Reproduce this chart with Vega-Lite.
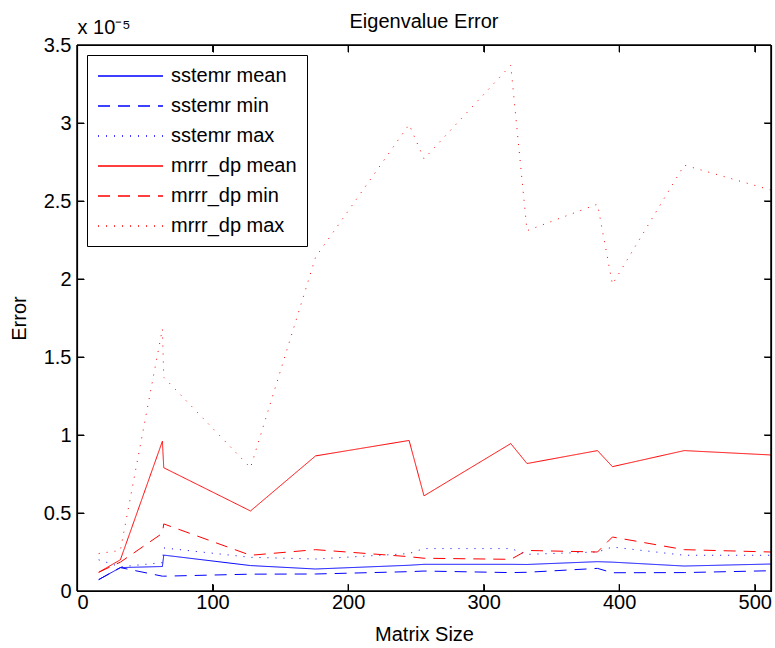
{
  "$schema": "https://vega.github.io/schema/vega-lite/v6.json",
  "autosize": {"type": "none"},
  "padding": {"left": 77, "top": 45, "right": 4, "bottom": 57},
  "width": 694,
  "height": 546,
  "background": "white",
  "title": {"text": "Eigenvalue Error", "font": "Liberation Sans", "fontSize": 20, "fontWeight": "normal", "color": "black", "anchor": "middle", "baseline": "alphabetic", "offset": -30},
  "config": {
    "view": {"stroke": "black", "strokeWidth": 1},
    "axis": {"grid": false, "domain": true, "ticks": true, "domainColor": "black", "tickColor": "black", "labelColor": "black", "titleColor": "black", "labelFont": "Liberation Sans", "titleFont": "Liberation Sans", "labelFontSize": 20, "titleFontSize": 20, "titleFontWeight": "normal", "tickSize": -7, "domainWidth": 1.2, "tickWidth": 1},
    "legend": {"labelFont": "Liberation Sans", "labelFontSize": 20, "labelColor": "black", "strokeColor": "black", "fillColor": "white", "padding": 10, "rowPadding": 9, "offset": 10, "orient": "top-left", "symbolType": "M-1,0H5.5", "symbolSize": 400, "symbolStrokeWidth": 1.5, "labelOffset": 52, "cornerRadius": 0}
  },
  "datasets": {
    "xt": [{"n": 100}, {"n": 200}, {"n": 300}, {"n": 400}, {"n": 500}],
    "yt": [{"error": 0.5}, {"error": 1}, {"error": 1.5}, {"error": 2}, {"error": 2.5}, {"error": 3}]
  },
  "data": {"values": [
      {"n": 16, "series": "sstemr mean", "error": 0.073}, {"n": 32, "series": "sstemr mean", "error": 0.15}, {"n": 63, "series": "sstemr mean", "error": 0.157}, {"n": 64, "series": "sstemr mean", "error": 0.23}, {"n": 128, "series": "sstemr mean", "error": 0.163}, {"n": 176, "series": "sstemr mean", "error": 0.141}, {"n": 245, "series": "sstemr mean", "error": 0.165}, {"n": 256, "series": "sstemr mean", "error": 0.171}, {"n": 320, "series": "sstemr mean", "error": 0.171}, {"n": 332, "series": "sstemr mean", "error": 0.17}, {"n": 384, "series": "sstemr mean", "error": 0.188}, {"n": 395, "series": "sstemr mean", "error": 0.185}, {"n": 448, "series": "sstemr mean", "error": 0.16}, {"n": 512, "series": "sstemr mean", "error": 0.173},
      {"n": 16, "series": "sstemr min", "error": 0.073}, {"n": 32, "series": "sstemr min", "error": 0.15}, {"n": 63, "series": "sstemr min", "error": 0.095}, {"n": 64, "series": "sstemr min", "error": 0.095}, {"n": 128, "series": "sstemr min", "error": 0.108}, {"n": 176, "series": "sstemr min", "error": 0.109}, {"n": 245, "series": "sstemr min", "error": 0.124}, {"n": 256, "series": "sstemr min", "error": 0.128}, {"n": 320, "series": "sstemr min", "error": 0.118}, {"n": 332, "series": "sstemr min", "error": 0.12}, {"n": 384, "series": "sstemr min", "error": 0.145}, {"n": 395, "series": "sstemr min", "error": 0.117}, {"n": 448, "series": "sstemr min", "error": 0.118}, {"n": 512, "series": "sstemr min", "error": 0.13},
      {"n": 16, "series": "sstemr max", "error": 0.2}, {"n": 32, "series": "sstemr max", "error": 0.155}, {"n": 63, "series": "sstemr max", "error": 0.182}, {"n": 64, "series": "sstemr max", "error": 0.276}, {"n": 128, "series": "sstemr max", "error": 0.216}, {"n": 176, "series": "sstemr max", "error": 0.205}, {"n": 245, "series": "sstemr max", "error": 0.24}, {"n": 256, "series": "sstemr max", "error": 0.272}, {"n": 320, "series": "sstemr max", "error": 0.272}, {"n": 332, "series": "sstemr max", "error": 0.235}, {"n": 384, "series": "sstemr max", "error": 0.25}, {"n": 395, "series": "sstemr max", "error": 0.282}, {"n": 448, "series": "sstemr max", "error": 0.229}, {"n": 512, "series": "sstemr max", "error": 0.229},
      {"n": 16, "series": "mrrr_dp mean", "error": 0.12}, {"n": 32, "series": "mrrr_dp mean", "error": 0.2}, {"n": 63, "series": "mrrr_dp mean", "error": 0.96}, {"n": 64, "series": "mrrr_dp mean", "error": 0.79}, {"n": 128, "series": "mrrr_dp mean", "error": 0.513}, {"n": 176, "series": "mrrr_dp mean", "error": 0.866}, {"n": 245, "series": "mrrr_dp mean", "error": 0.965}, {"n": 256, "series": "mrrr_dp mean", "error": 0.61}, {"n": 320, "series": "mrrr_dp mean", "error": 0.945}, {"n": 332, "series": "mrrr_dp mean", "error": 0.817}, {"n": 384, "series": "mrrr_dp mean", "error": 0.9}, {"n": 395, "series": "mrrr_dp mean", "error": 0.797}, {"n": 448, "series": "mrrr_dp mean", "error": 0.9}, {"n": 512, "series": "mrrr_dp mean", "error": 0.872},
      {"n": 16, "series": "mrrr_dp min", "error": 0.12}, {"n": 32, "series": "mrrr_dp min", "error": 0.185}, {"n": 63, "series": "mrrr_dp min", "error": 0.37}, {"n": 64, "series": "mrrr_dp min", "error": 0.43}, {"n": 128, "series": "mrrr_dp min", "error": 0.229}, {"n": 176, "series": "mrrr_dp min", "error": 0.265}, {"n": 245, "series": "mrrr_dp min", "error": 0.22}, {"n": 256, "series": "mrrr_dp min", "error": 0.21}, {"n": 320, "series": "mrrr_dp min", "error": 0.203}, {"n": 332, "series": "mrrr_dp min", "error": 0.26}, {"n": 384, "series": "mrrr_dp min", "error": 0.25}, {"n": 395, "series": "mrrr_dp min", "error": 0.346}, {"n": 448, "series": "mrrr_dp min", "error": 0.265}, {"n": 512, "series": "mrrr_dp min", "error": 0.25},
      {"n": 16, "series": "mrrr_dp max", "error": 0.24}, {"n": 32, "series": "mrrr_dp max", "error": 0.26}, {"n": 63, "series": "mrrr_dp max", "error": 1.68}, {"n": 64, "series": "mrrr_dp max", "error": 1.37}, {"n": 128, "series": "mrrr_dp max", "error": 0.79}, {"n": 176, "series": "mrrr_dp max", "error": 2.14}, {"n": 245, "series": "mrrr_dp max", "error": 2.99}, {"n": 256, "series": "mrrr_dp max", "error": 2.77}, {"n": 320, "series": "mrrr_dp max", "error": 3.37}, {"n": 332, "series": "mrrr_dp max", "error": 2.31}, {"n": 384, "series": "mrrr_dp max", "error": 2.48}, {"n": 395, "series": "mrrr_dp max", "error": 1.966}, {"n": 448, "series": "mrrr_dp max", "error": 2.73}, {"n": 512, "series": "mrrr_dp max", "error": 2.57}
  ]},
  "layer": [
    {
      "mark": {"type": "line", "strokeWidth": 1},
      "encoding": {
        "x": {"field": "n", "type": "quantitative", "scale": {"domain": [0, 512], "nice": false, "zero": false}, "axis": {"orient": "bottom", "title": "Matrix Size", "tickCount": 6, "format": "d", "labelPadding": 8, "titlePadding": 12}},
        "y": {"field": "error", "type": "quantitative", "scale": {"domain": [0, 3.5], "nice": false}, "axis": {"orient": "left", "title": "Error", "tickCount": 8, "format": "~g", "labelPadding": 13, "titlePadding": 14}},
        "color": {"field": "series", "type": "nominal", "sort": null, "scale": {"domain": ["sstemr mean", "sstemr min", "sstemr max", "mrrr_dp mean", "mrrr_dp min", "mrrr_dp max"], "range": ["#0000ff", "#0000ff", "#0000ff", "#ff0000", "#ff0000", "#ff0000"]}, "legend": {"title": null}},
        "strokeDash": {"field": "series", "type": "nominal", "sort": null, "scale": {"domain": ["sstemr mean", "sstemr min", "sstemr max", "mrrr_dp mean", "mrrr_dp min", "mrrr_dp max"], "range": [[1, 0], [12, 8], [1, 7], [1, 0], [12, 8], [1, 7]]}, "legend": {"title": null}}
      }
    },
    {
      "mark": {"type": "point", "opacity": 0},
      "encoding": {
        "x": {"field": "n", "type": "quantitative", "axis": {"orient": "top", "title": "x 10⁻⁵", "titleAnchor": "start", "titleAlign": "left", "titleBaseline": "alphabetic", "titlePadding": 11, "labels": false, "tickCount": 6}},
        "y": {"field": "error", "type": "quantitative", "axis": {"orient": "right", "title": null, "labels": false, "tickCount": 8}}
      }
    },
    {
      "data": {"values": [{}]},
      "mark": {"type": "rule", "color": "black", "strokeWidth": 1.5},
      "encoding": {"x": {"datum": 0, "type": "quantitative", "axis": null}}
    },
    {
      "data": {"values": [{}]},
      "mark": {"type": "rule", "color": "black", "strokeWidth": 1.5},
      "encoding": {"x": {"datum": 512, "type": "quantitative", "axis": null}}
    },
    {
      "data": {"values": [{}]},
      "mark": {"type": "rule", "color": "black", "strokeWidth": 1.5},
      "encoding": {"y": {"datum": 0, "type": "quantitative", "axis": null}}
    },
    {
      "data": {"values": [{}]},
      "mark": {"type": "rule", "color": "black", "strokeWidth": 1.5},
      "encoding": {"y": {"datum": 3.5, "type": "quantitative", "axis": null}}
    },
    {
      "data": {"name": "xt"},
      "mark": {"type": "tick", "orient": "vertical", "size": 14, "thickness": 1, "color": "black", "opacity": 1, "clip": true},
      "encoding": {"x": {"field": "n", "type": "quantitative", "axis": null}, "y": {"datum": 0, "type": "quantitative", "axis": null}}
    },
    {
      "data": {"name": "xt"},
      "mark": {"type": "tick", "orient": "vertical", "size": 14, "thickness": 1, "color": "black", "opacity": 1, "clip": true},
      "encoding": {"x": {"field": "n", "type": "quantitative", "axis": null}, "y": {"datum": 3.5, "type": "quantitative", "axis": null}}
    },
    {
      "data": {"name": "yt"},
      "mark": {"type": "tick", "orient": "horizontal", "size": 14, "thickness": 1, "color": "black", "opacity": 1, "clip": true},
      "encoding": {"y": {"field": "error", "type": "quantitative", "axis": null}, "x": {"datum": 0, "type": "quantitative", "axis": null}}
    },
    {
      "data": {"name": "yt"},
      "mark": {"type": "tick", "orient": "horizontal", "size": 14, "thickness": 1, "color": "black", "opacity": 1, "clip": true},
      "encoding": {"y": {"field": "error", "type": "quantitative", "axis": null}, "x": {"datum": 512, "type": "quantitative", "axis": null}}
    }
  ],
  "resolve": {"axis": {"x": "independent", "y": "independent"}}
}
